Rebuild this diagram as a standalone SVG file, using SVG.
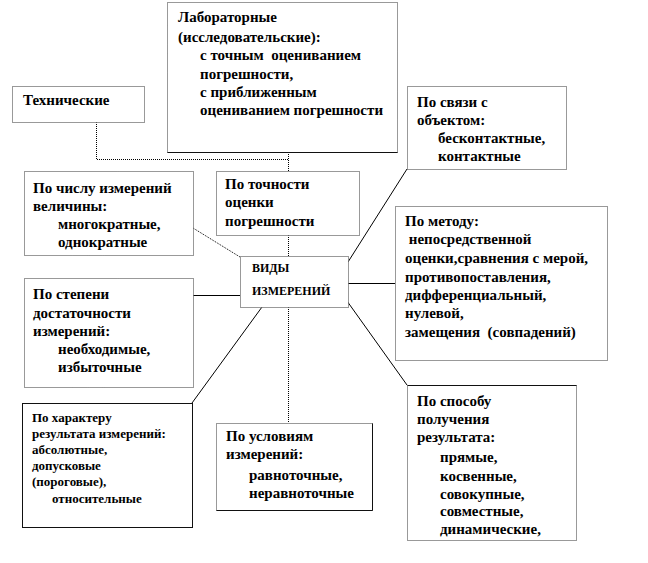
<svg xmlns="http://www.w3.org/2000/svg" width="648" height="563" viewBox="0 0 648 563">
<style>
.box{fill:#fff;stroke:#333;stroke-width:1;stroke-dasharray:1 1}
.boxs{fill:#fff;stroke:#111;stroke-width:1}
.edge{fill:none;stroke:#111;stroke-width:1}
.c{fill:none;stroke:#000;stroke-width:1}
.d{fill:none;stroke:#000;stroke-width:1;stroke-dasharray:1 1}
.t{font-family:'Liberation Serif','DejaVu Serif',serif;font-weight:bold;font-size:15px;fill:#000}
.sm{font-size:13px}
.v{font-size:12px}
</style>
<rect width="648" height="563" fill="#fff"/>
<g id="connectors">
<path class="d" d="M96.5 122 V159.5 H288.5"/>
<path class="d" d="M288.5 152 V171"/>
<path class="d" d="M288.5 235 V256"/>
<path class="d" d="M288.5 307 V423"/>
<path class="d" d="M193 228 L240 257"/>
<path class="c" d="M193 295.5 H240"/>
<path class="c" d="M262 307 L192 403"/>
<path class="c" d="M348 262 L407 169"/>
<path class="c" d="M348 283.5 H395"/>
<path class="c" d="M347 301 L407 385"/>
</g>
<g class="t">
<g id="lab">
<rect class="box" x="167.5" y="2.5" width="230" height="150"/>
<path class="edge" d="M167.5 152.5 H397.5"/>
<text x="178" y="22">Лабораторные</text>
<text x="178" y="42">(исследовательские):</text>
<text x="200" y="60" xml:space="preserve">с точным  оцениванием</text>
<text x="200" y="79">погрешности,</text>
<text x="200" y="97">с приближенным</text>
<text x="200" y="115">оцениванием погрешности</text>
</g>
<g id="tech">
<rect class="box" x="12.5" y="86.5" width="132" height="36"/>
<text x="23" y="105">Технические</text>
</g>
<g id="svyaz">
<rect class="box" x="407.5" y="86.5" width="159" height="83"/>
<text x="417" y="107">По связи с</text>
<text x="417" y="125">объектом:</text>
<text x="438" y="143">бесконтактные,</text>
<text x="438" y="161">контактные</text>
</g>
<g id="chislo">
<rect class="box" x="24.5" y="171.5" width="169" height="84"/>
<text x="33" y="193">По числу измерений</text>
<text x="33" y="211">величины:</text>
<text x="58" y="229">многократные,</text>
<text x="58" y="247">однократные</text>
</g>
<g id="tochnost">
<rect class="box" x="216.5" y="171.5" width="143" height="64"/>
<text x="225" y="189">По точности</text>
<text x="225" y="207">оценки</text>
<text x="225" y="226">погрешности</text>
</g>
<g id="vidy">
<rect class="box" x="240.5" y="256.5" width="108" height="51"/>
<text class="v" x="252" y="272">ВИДЫ</text>
<text class="v" x="252" y="295">ИЗМЕРЕНИЙ</text>
</g>
<g id="stepen">
<rect class="box" x="24.5" y="278.5" width="169" height="109"/>
<text x="33" y="299">По степени</text>
<text x="33" y="318">достаточности</text>
<text x="33" y="336">измерений:</text>
<text x="58" y="354">необходимые,</text>
<text x="58" y="372">избыточные</text>
</g>
<g id="metod">
<rect class="box" x="395.5" y="206.5" width="212" height="154"/>
<text x="405" y="226">По методу:</text>
<text x="405" y="244" xml:space="preserve"> непосредственной</text>
<text x="405" y="263">оценки,сравнения с мерой,</text>
<text x="405" y="282">противопоставления,</text>
<text x="405" y="300">дифференциальный,</text>
<text x="405" y="318">нулевой,</text>
<text x="405" y="337" xml:space="preserve">замещения  (совпадений)</text>
</g>
<g id="harakter">
<rect class="boxs" x="22.5" y="403.5" width="170" height="124"/>
<text class="sm" x="32" y="422">По характеру</text>
<text class="sm" x="32" y="438">результата измерений:</text>
<text class="sm" x="32" y="454">абсолютные,</text>
<text class="sm" x="32" y="470">допусковые</text>
<text class="sm" x="32" y="486">(пороговые),</text>
<text class="sm" x="52" y="503">относительные</text>
</g>
<g id="usloviya">
<rect class="box" x="216.5" y="423.5" width="156" height="87"/>
<path class="edge" d="M372.5 423.5 V510.5 H216.5"/>
<text x="226" y="441">По условиям</text>
<text x="226" y="459">измерений:</text>
<text x="249" y="480">равноточные,</text>
<text x="249" y="498">неравноточные</text>
</g>
<g id="sposob">
<rect class="box" x="407.5" y="385.5" width="169" height="155"/>
<path class="edge" d="M407.5 385.5 H576.5"/>
<text x="417" y="406">По способу</text>
<text x="417" y="424">получения</text>
<text x="417" y="442">результата:</text>
<text x="440" y="462">прямые,</text>
<text x="440" y="481">косвенные,</text>
<text x="440" y="499">совокупные,</text>
<text x="440" y="516">совместные,</text>
<text x="440" y="534">динамические,</text>
</g>
</g>
</svg>
